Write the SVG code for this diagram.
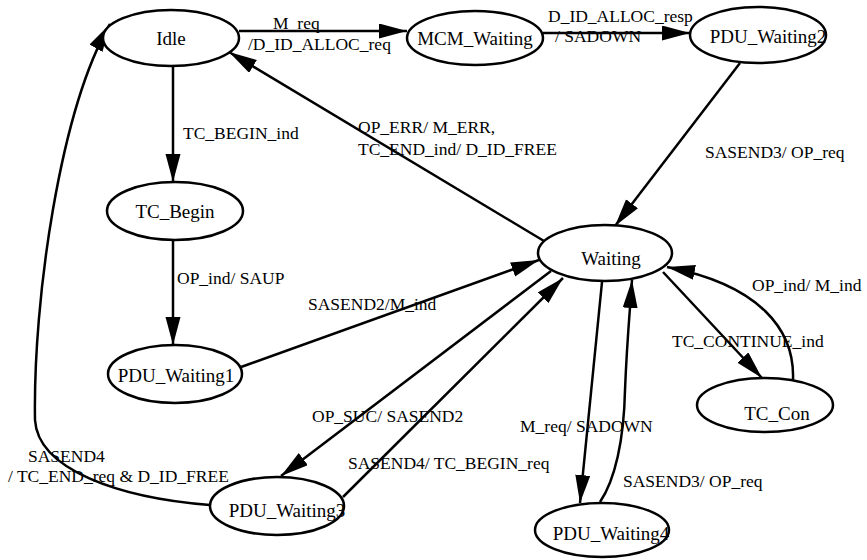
<svg xmlns="http://www.w3.org/2000/svg" width="867" height="560" viewBox="0 0 867 560">
  <style>
    .state ellipse { fill: #fff; stroke: #000; stroke-width: 2.5; }
    .state text { font-family: "Liberation Serif", serif; font-size: 19px; fill: #000; text-anchor: middle; }
    .edge { fill: none; stroke: #000; stroke-width: 2.5; marker-end: url(#arrow); }
    .lbl { font-family: "Liberation Serif", serif; font-size: 17.5px; fill: #000; }
  </style>
  <defs>
    <marker id="arrow" markerUnits="userSpaceOnUse" markerWidth="28" markerHeight="16" refX="28" refY="7.5" orient="auto">
      <path d="M0,0 L28,7.5 L0,15 z" fill="#000"/>
    </marker>
  </defs>
  <rect width="867" height="560" fill="#fff"/>

  <!-- transitions -->
  <g id="connectors">
    <line class="edge" x1="239" y1="31" x2="407" y2="31"/>
    <line class="edge" x1="543" y1="33" x2="690" y2="33"/>
    <line class="edge" x1="173" y1="66" x2="173" y2="182"/>
    <line class="edge" x1="173" y1="240" x2="173" y2="345"/>
    <line class="edge" x1="740" y1="63" x2="615" y2="226"/>
    <line class="edge" x1="544" y1="241" x2="229" y2="52"/>
    <line class="edge" x1="241" y1="367" x2="539" y2="260"/>
    <line class="edge" x1="551" y1="271" x2="281" y2="476"/>
    <line class="edge" x1="343" y1="497" x2="563" y2="278"/>
    <line class="edge" x1="602" y1="282" x2="580" y2="503"/>
    <path class="edge" d="M600,502 C615,480 624,440 625,390 C627,340 630,310 632,280"/>
    <line class="edge" x1="663" y1="272" x2="762" y2="378"/>
    <path class="edge" d="M793,380 C795,330 760,285 667,267"/>
    <path class="edge" d="M210,505 C120,498 38,470 35,420 C33,300 60,110 110,24"/>
  </g>

  <!-- transition labels -->
  <g id="labels">
    <text class="lbl" x="273" y="29">M_req</text>
    <text class="lbl" x="248" y="50">/D_ID_ALLOC_req</text>
    <text class="lbl" x="548" y="22">D_ID_ALLOC_resp</text>
    <text class="lbl" x="555" y="42">/ SADOWN</text>
    <text class="lbl" x="358" y="133">OP_ERR/ M_ERR,</text>
    <text class="lbl" x="358" y="155">TC_END_ind/ D_ID_FREE</text>
    <text class="lbl" x="705" y="158">SASEND3/ OP_req</text>
    <text class="lbl" x="183" y="139">TC_BEGIN_ind</text>
    <text class="lbl" x="177" y="284">OP_ind/ SAUP</text>
    <text class="lbl" x="308" y="310">SASEND2/M_ind</text>
    <text class="lbl" x="752" y="291">OP_ind/ M_ind</text>
    <text class="lbl" x="672" y="347">TC_CONTINUE_ind</text>
    <text class="lbl" x="312" y="422">OP_SUC/ SASEND2</text>
    <text class="lbl" x="348" y="469">SASEND4/ TC_BEGIN_req</text>
    <text class="lbl" x="520" y="432">M_req/ SADOWN</text>
    <text class="lbl" x="623" y="487">SASEND3/ OP_req</text>
    <text class="lbl" x="28" y="462">SASEND4</text>
    <text class="lbl" x="8" y="482">/ TC_END_req &amp; D_ID_FREE</text>
  </g>

  <!-- states -->
  <g id="idle" class="state"><ellipse cx="171" cy="38" rx="68" ry="28"/><text x="171" y="45">Idle</text></g>
  <g id="mcm-waiting" class="state"><ellipse cx="475" cy="38" rx="68" ry="27"/><text x="475" y="45">MCM_Waiting</text></g>
  <g id="pdu-waiting2" class="state"><ellipse cx="758" cy="35" rx="68" ry="28"/><text x="768" y="43">PDU_Waiting2</text></g>
  <g id="tc-begin" class="state"><ellipse cx="175" cy="211" rx="68" ry="29"/><text x="175" y="218">TC_Begin</text></g>
  <g id="waiting" class="state"><ellipse cx="605" cy="253" rx="67" ry="28"/><text x="611" y="265">Waiting</text></g>
  <g id="pdu-waiting1" class="state"><ellipse cx="175" cy="374" rx="67" ry="29"/><text x="176" y="382">PDU_Waiting1</text></g>
  <g id="pdu-waiting3" class="state"><ellipse cx="277" cy="506" rx="67" ry="29"/><text x="287" y="517">PDU_Waiting3</text></g>
  <g id="pdu-waiting4" class="state"><ellipse cx="602" cy="530" rx="67" ry="27"/><text x="611" y="540">PDU_Waiting4</text></g>
  <g id="tc-con" class="state"><ellipse cx="765" cy="405" rx="68" ry="27"/><text x="777" y="420">TC_Con</text></g>
</svg>
